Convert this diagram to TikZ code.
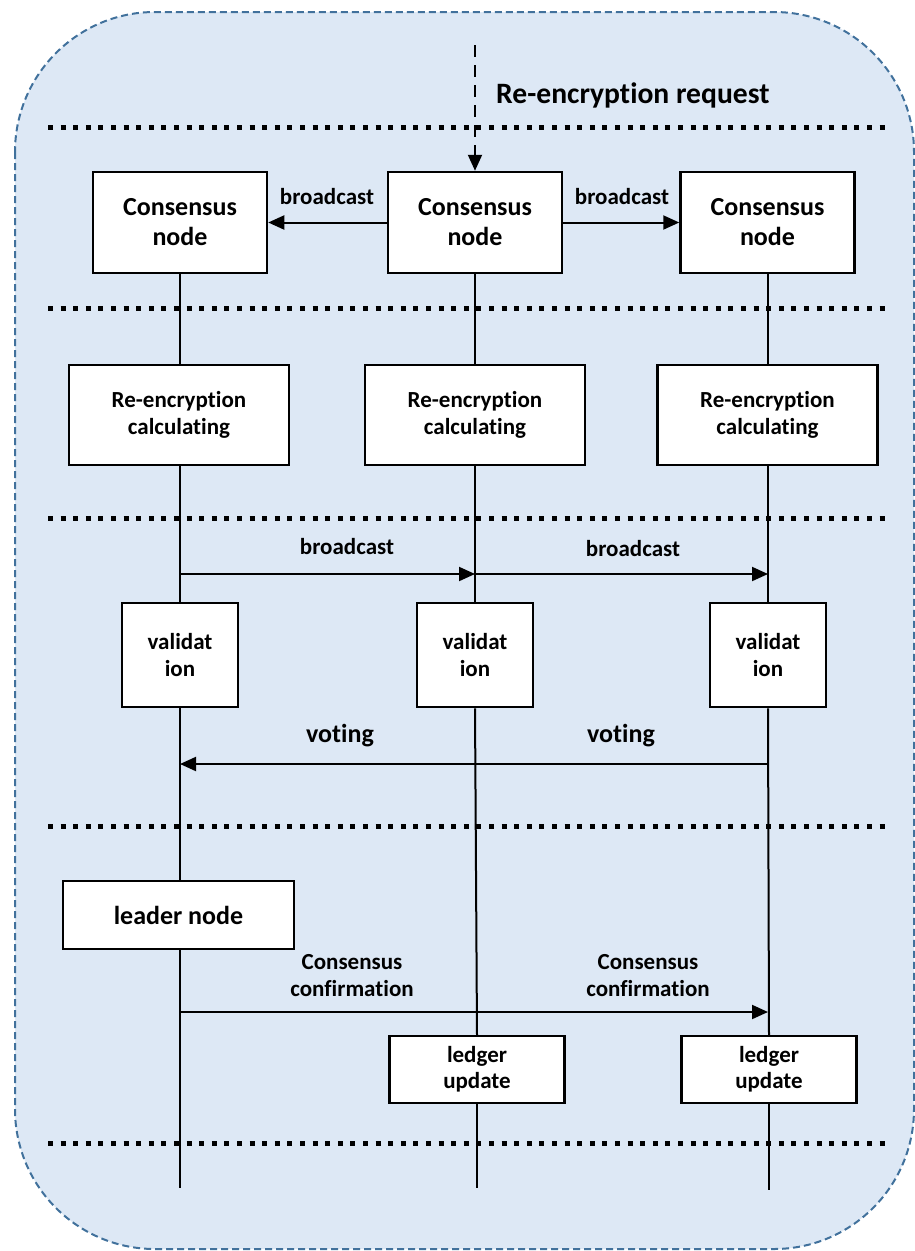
\documentclass[tikz,border=0pt]{standalone}
\usepackage{fontspec}
\setmainfont{Carlito}[Ligatures=NoCommon]
\usetikzlibrary{arrows.meta}
\definecolor{panelfill}{HTML}{DDE8F5}
\definecolor{panelline}{HTML}{41719C}
\tikzset{
  panel/.style={draw=panelline, fill=panelfill, line width=2pt, dash pattern=on 7pt off 4pt, rounded corners=140pt},
  phase/.style={line width=5pt, dash pattern=on 5pt off 7.6pt},
  box/.style={draw=black, fill=white, line width=2.5pt, align=center, inner sep=0pt, font=\bfseries},
  bigbox/.style={box, minimum width=174pt, minimum height=101pt, font=\fontsize{26}{30}\selectfont\bfseries},
  calcbox/.style={box, minimum width=220pt, minimum height=100pt, font=\fontsize{23}{27}\selectfont\bfseries},
  valbox/.style={box, minimum width=116pt, minimum height=104pt, font=\fontsize{23}{27}\selectfont\bfseries},
  ledgerbox/.style={box, minimum width=175pt, minimum height=67pt, font=\fontsize{23}{26}\selectfont\bfseries},
  leaderbox/.style={box, minimum width=231pt, minimum height=68pt, font=\fontsize{26}{30}\selectfont\bfseries},
  life/.style={line width=2pt},
  msg/.style={line width=2pt, -{Triangle[length=16pt,width=14pt]}},
  lbl/.style={align=center, inner sep=0pt, font=\fontsize{23}{27}\selectfont\bfseries},
  vlbl/.style={inner sep=0pt, font=\fontsize{26}{30}\selectfont\bfseries},
}
\begin{document}
\begin{tikzpicture}[x=1pt, y=-1pt]
\useasboundingbox (0,0) rectangle (915,1251);

% outer panel
\path[panel] (15,12) rectangle (914,1249);

% phase separators
\foreach \y in {127,308,518,826,1143}
  \draw[phase] (48,\y) -- (888,\y);

% consensus nodes
\node[bigbox] (cn1) at (180,222.5) {Consensus\\node};
\node[bigbox] (cn2) at (475,222.5) {Consensus\\node};
\node[bigbox] (cn3) at (767.5,222.5) {Consensus\\node};

% incoming request
\coordinate (req) at (475,45);
\draw[line width=2pt, dash pattern=on 12pt off 8pt, -{Triangle[length=16pt,width=14pt]}] (req) -- (cn2.north);
\node[anchor=west, inner sep=0pt, font=\fontsize{29.6}{34}\selectfont\bfseries] (reqlbl) at (496,95) {Re-encryption request};

% broadcast from the receiving node
\draw[msg] (cn2.west) -- (cn1.east);
\draw[msg] (cn2.east) -- (cn3.west);
\node[lbl] (bc1) at (327,197) {broadcast};
\node[lbl] (bc2) at (622,197) {broadcast};

% re-encryption calculation
\node[calcbox] (rc1) at (179,415) {Re-encryption\\calculating};
\node[calcbox] (rc2) at (475,415) {Re-encryption\\calculating};
\node[calcbox] (rc3) at (767.5,415) {Re-encryption\\calculating};

% validation
\node[valbox] (v1) at (180,655) {validat\\ion};
\node[valbox] (v2) at (475,655) {validat\\ion};
\node[valbox] (v3) at (768,655) {validat\\ion};

% leader and ledger updates
\node[leaderbox] (lead) at (178.5,915) {leader node};
\node[ledgerbox] (lu2) at (477,1069.5) {ledger\\update};
\node[ledgerbox] (lu3) at (769,1069.5) {ledger\\update};

% lifeline ends
\coordinate (end1) at (180,1188);
\coordinate (end2) at (477,1188);
\coordinate (end3) at (769,1190);

% lifelines
\draw[life] (cn1.south) -- (rc1.north -| cn1.south);
\draw[life] (cn2.south) -- (rc2.north);
\draw[life] (cn3.south) -- (rc3.north -| cn3.south);
\draw[life] (rc1.south -| v1.north) -- (v1.north);
\draw[life] (rc2.south) -- (v2.north);
\draw[life] (rc3.south -| v3.north) -- (v3.north);
\draw[life] (v1.south) -- (lead.north -| v1.south);
\draw[life] (lead.south -| v1.south) -- (end1);
\draw[life] (v2.south) -- (lu2.north);
\draw[life] (lu2.south) -- (end2);
\draw[life] (v3.south) -- (lu3.north);
\draw[life] (lu3.south) -- (end3);

% broadcast of results
\coordinate (b1) at (180,574);
\coordinate (b2) at (475,574);
\coordinate (b3) at (768,574);
\draw[msg] (b1) -- (b2);
\draw[msg] (b2) -- (b3);
\node[lbl] (bc3) at (347,547) {broadcast};
\node[lbl] (bc4) at (633,549) {broadcast};

% voting
\coordinate (vt1) at (180,764);
\coordinate (vt3) at (768,764);
\draw[msg] (vt3) -- (vt1);
\node[vlbl] (vl1) at (340,736) {voting};
\node[vlbl] (vl2) at (621,736) {voting};

% consensus confirmation
\coordinate (cc1) at (180,1012);
\coordinate (cc3) at (768,1012);
\draw[msg] (cc1) -- (cc3);
\node[lbl] (cl1) at (352,976) {Consensus\\confirmation};
\node[lbl] (cl2) at (648,976) {Consensus\\confirmation};
\end{tikzpicture}
\end{document}
